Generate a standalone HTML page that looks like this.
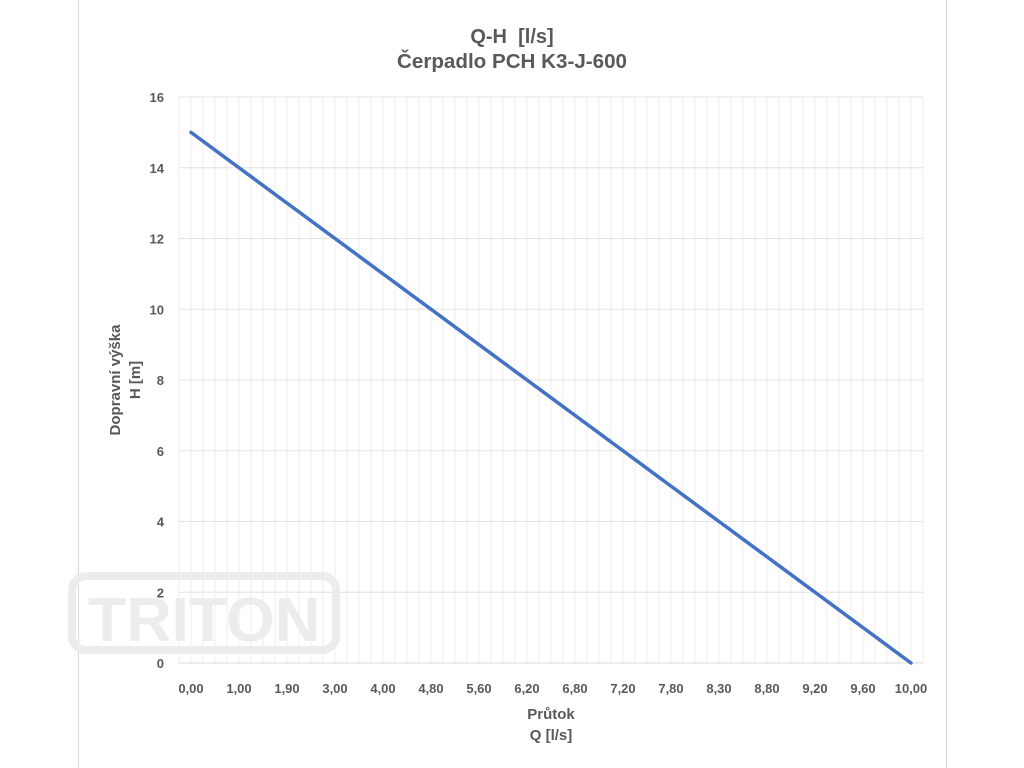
<!DOCTYPE html>
<html><head><meta charset="utf-8"><style>
html,body{margin:0;padding:0;background:#fff;}
svg{display:block;font-family:"Liberation Sans",sans-serif;}
</style></head><body>
<svg id="chart" width="1024" height="768" viewBox="0 0 1024 768">
<rect x="78.5" y="-1" width="868" height="770" fill="#fff" stroke="#d9d9d9"/>
<text x="512" y="43" text-anchor="middle" font-size="20" font-weight="bold" fill="#595959" xml:space="preserve">Q-H  [l/s]</text>
<text x="512" y="68" text-anchor="middle" font-size="20" font-weight="bold" fill="#595959" textLength="230" lengthAdjust="spacingAndGlyphs">Čerpadlo PCH K3-J-600</text>
<g id="grid"></g>
<g>
<rect x="72" y="576" width="264" height="74" rx="14" fill="none" stroke="#ececec" stroke-width="8"/>
<text x="204" y="641" text-anchor="middle" font-size="62" font-weight="bold" fill="#ececec" textLength="232" lengthAdjust="spacingAndGlyphs">TRITON</text>
</g>
<g id="yticks"></g>
<g id="xticks"></g>
<g id="series"></g>
<text transform="translate(120,380) rotate(-90)" text-anchor="middle" font-size="15" font-weight="bold" fill="#595959"><tspan x="0" y="0">Dopravní výška</tspan><tspan x="0" y="20">H [m]</tspan></text>
<text x="551" y="719" text-anchor="middle" font-size="15" font-weight="bold" fill="#595959">Průtok</text>
<text x="551" y="740" text-anchor="middle" font-size="15" font-weight="bold" fill="#595959">Q [l/s]</text>
</svg>
<script>
const flowCategories = ["0,00","0,25","0,50","0,75","1,00","1,22","1,45","1,68","1,90","2,18","2,45","2,73","3,00","3,25","3,50","3,75","4,00","4,20","4,40","4,60","4,80","5,00","5,20","5,40","5,60","5,75","5,90","6,05","6,20","6,35","6,50","6,65","6,80","6,90","7,00","7,10","7,20","7,35","7,50","7,65","7,80","7,92","8,05","8,18","8,30","8,42","8,55","8,68","8,80","8,90","9,00","9,10","9,20","9,30","9,40","9,50","9,60","9,70","9,80","9,90","10,00"];
const headValues = [15,14.75,14.5,14.25,14,13.75,13.5,13.25,13,12.75,12.5,12.25,12,11.75,11.5,11.25,11,10.75,10.5,10.25,10,9.75,9.5,9.25,9,8.75,8.5,8.25,8,7.75,7.5,7.25,7,6.75,6.5,6.25,6,5.75,5.5,5.25,5,4.75,4.5,4.25,4,3.75,3.5,3.25,3,2.75,2.5,2.25,2,1.75,1.5,1.25,1,0.75,0.5,0.25,0];
const yTickValues = [0,2,4,6,8,10,12,14,16];
const xLabelStep = 4;

const NS="http://www.w3.org/2000/svg";
const L=179,R=923,T=97,B=663,yMax=16;
const n=flowCategories.length;
const step=(R-L)/(n+1);
const xs=i=>L+step*(i+1);
const ys=v=>B-(v/yMax)*(B-T);
function mk(tag,attrs,parent){const e=document.createElementNS(NS,tag);for(const k in attrs)e.setAttribute(k,attrs[k]);parent.appendChild(e);return e;}
const grid=document.getElementById('grid');
for(let k=0;k<=n+1;k++){const x=L+step*k;
const g=mk('line',{x1:x,x2:x,y1:T,y2:B,stroke:'#ececec','stroke-width':1},grid);

}
const yt=document.getElementById('yticks');
yTickValues.forEach(v=>{const y=ys(v);
const g=mk('line',{x1:L,x2:R,y1:y,y2:y,stroke:v===0?'#d9d9d9':'#e3e3e3','stroke-width':1},grid);


const t=mk('text',{x:164,y:y+5,'text-anchor':'end','font-size':13,'font-weight':'bold',fill:'#595959'},yt);
t.textContent=v;

});
const xt=document.getElementById('xticks');
flowCategories.forEach((c,i)=>{if(i%xLabelStep)return;
const t=mk('text',{x:xs(i),y:693,'text-anchor':'middle','font-size':13,'font-weight':'bold',fill:'#595959'},xt);
t.textContent=c;

});
const pts=headValues.map((v,i)=>xs(i).toFixed(2)+','+ys(v).toFixed(2)).join(' ');
const pl=mk('polyline',{points:pts,fill:'none',stroke:'#4472c4','stroke-width':3.5,'stroke-linejoin':'round','stroke-linecap':'round'},document.getElementById('series'));


</script>
</body></html>
